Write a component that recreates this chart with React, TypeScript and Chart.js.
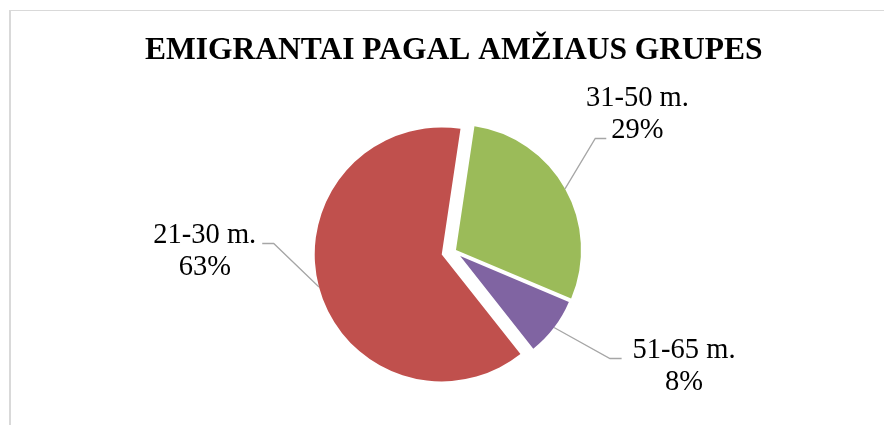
import React, { useEffect, useRef } from "react";
import { Chart, registerables } from "chart.js";

Chart.register(...registerables);

// ---- data ----
const categories = ["31-50 m.", "51-65 m.", "21-30 m."];
const shares = [29, 8, 63];
const sliceColors = ["#9BBB59", "#8064A2", "#C0504D"];
const titleText = "EMIGRANTAI PAGAL AMŽIAUS GRUPES";

// ---- styling / layout ----
const FONT = '"Liberation Serif", "Times New Roman", serif';
const LABEL_SIZE = 28.5;
const LINE_GAP = 32;
const PIE_RADIUS = 126;
const START_ROTATION = 8.5;
const explode = [2.5, 8, 12.5];
const sliceRadius = [125, 118, 127];
const labelLayout = [
  { dAngle: -5.9, dist: 222, attach: 0, line: 1, side: "left", gap: 5, run: 11 },
  { dAngle: -9.55, dist: 253, attach: 0, line: 0, side: "left", gap: 11, run: 11.7 },
  { dAngle: 13.7, dist: 237, attach: 0, line: 0, side: "right", gap: 6, run: 11.5 },
];

const explodePlugin = {
  id: "explodeSlices",
  afterDatasetUpdate(chart: any, args: any) {
    const meta = chart.getDatasetMeta(args.index);
    meta.data.forEach((el: any, i: number) => {
      const mid = (el.startAngle + el.endAngle) / 2;
      const d = explode[i] || 0;
      el.x += Math.cos(mid) * d;
      el.y += Math.sin(mid) * d;
      if (sliceRadius[i]) el.outerRadius = sliceRadius[i];
    });
  },
};

const labelPlugin = {
  id: "sliceLabels",
  afterDatasetsDraw(chart: any) {
    const ctx = chart.ctx as CanvasRenderingContext2D;
    const meta = chart.getDatasetMeta(0);
    ctx.save();
    ctx.font = `${LABEL_SIZE}px ${FONT}`;
    meta.data.forEach((el: any, i: number) => {
      const L = labelLayout[i];
      const mid = (el.startAngle + el.endAngle) / 2;
      const a = mid + (L.dAngle * Math.PI) / 180;
      const cx = el.x + Math.cos(a) * L.dist;
      const cy = el.y + Math.sin(a) * L.dist;
      const lines = [categories[i], `${shares[i]}%`];
      const base = [cy - LINE_GAP / 2, cy + LINE_GAP / 2];

      const w = ctx.measureText(lines[L.line]).width;
      const ly = Math.round(base[L.line]) + 0.5;
      let elbowX: number, endX: number;
      if (L.side === "left") {
        endX = cx - w / 2 - L.gap;
        elbowX = endX - L.run;
      } else {
        endX = cx + w / 2 + L.gap;
        elbowX = endX + L.run;
      }
      const at = mid + (L.attach * Math.PI) / 180;
      const ax = el.x + Math.cos(at) * el.outerRadius;
      const ay = el.y + Math.sin(at) * el.outerRadius;
      ctx.strokeStyle = "#A6A6A6";
      ctx.lineWidth = 1.3;
      ctx.beginPath();
      ctx.moveTo(ax, ay);
      ctx.lineTo(elbowX, ly);
      ctx.lineTo(endX, ly);
      ctx.stroke();

      ctx.fillStyle = "#000000";
      ctx.textAlign = "center";
      ctx.textBaseline = "alphabetic";
      lines.forEach((t, k) => ctx.fillText(t, cx, base[k]));
    });
    ctx.restore();
  },
};

export default function App() {
  const ref = useRef<HTMLCanvasElement | null>(null);

  useEffect(() => {
    if (!ref.current) return;
    const chart = new Chart(ref.current, {
      type: "pie",
      data: {
        labels: categories,
        datasets: [
          {
            data: shares,
            backgroundColor: sliceColors,
            borderWidth: 0,
            radius: PIE_RADIUS,
            rotation: START_ROTATION,
          } as any,
        ],
      },
      options: {
        animation: false,
        responsive: false,
        radius: PIE_RADIUS,
        rotation: START_ROTATION,
        layout: { padding: { left: 23.6, right: 0, top: 0, bottom: 10.4 } },
        plugins: {
          legend: { display: false },
          tooltip: { enabled: false },
          title: {
            display: true,
            text: titleText,
            color: "#000000",
            fullSize: false,
            font: { family: FONT, size: 31.5, weight: "bold", lineHeight: 1.2 },
            padding: { top: 31.6, bottom: 18.4 },
          },
        },
      } as any,
      plugins: [explodePlugin, labelPlugin],
    });
    return () => chart.destroy();
  }, []);

  return (
    <div
      style={{
        position: "fixed",
        left: 0,
        top: 0,
        width: 884,
        height: 425,
        overflow: "hidden",
        background: "#ffffff",
      }}
    >
      <div
        style={{
          position: "absolute",
          left: 9,
          top: 10,
          width: 1000,
          height: 1000,
          borderTop: "1px solid #D9D9D9",
          borderLeft: "2px solid #D9D9D9",
        }}
      />
      <canvas
        ref={ref}
        width={884}
        height={425}
        style={{ position: "absolute", left: 0, top: 0, width: 884, height: 425 }}
      />
    </div>
  );
}
